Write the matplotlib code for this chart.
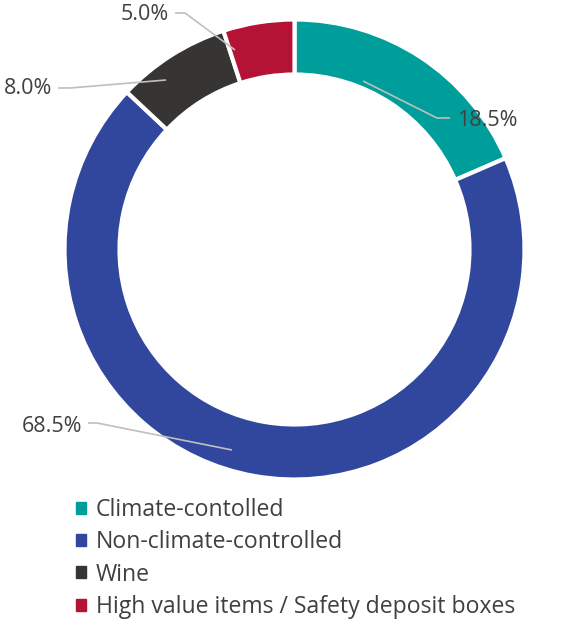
import matplotlib
matplotlib.use('Agg')
import matplotlib.pyplot as plt

categories = ['Climate-contolled', 'Non-climate-controlled', 'Wine',
              'High value items / Safety deposit boxes']
shares = [18.5, 68.5, 8.0, 5.0]
colors = ['#009E9A', '#30479D', '#363534', '#B51335']

W, H = 584, 619
TEXT = '#404040'
LEADER = '#BFBFBF'

plt.rcParams['font.family'] = ['Open Sans', 'DejaVu Sans']

fig = plt.figure(figsize=(W / 100, H / 100), dpi=100)
ax = fig.add_axes([0, 0, 1, 1])

# ring geometry in pixel units (y measured from the top of the image)
cx, cy = 294.5, 249.5
r_out, r_in = 230, 175

wedges, _ = ax.pie(shares, colors=colors, startangle=90, counterclock=False,
                   center=(cx, H - cy), radius=r_out,
                   wedgeprops=dict(width=r_out - r_in, edgecolor='white', linewidth=3))
ax.set_xlim(0, W)
ax.set_ylim(0, H)
ax.set_aspect('equal')
ax.axis('off')

# data labels with leader lines: (text x, text y, ha, line vertices)
label_layout = [
    (457, 121, 'left',  [(363, 81), (437, 118), (450, 118)]),
    (82, 426, 'right',  [(232, 450), (97, 423), (88, 423)]),
    (52, 89, 'right',   [(166, 80), (70, 88), (58, 88)]),
    (169, 15, 'right',  [(235, 50), (185, 13), (175, 13)]),
]
for val, (tx, ty, ha, pts) in zip(shares, label_layout):
    xs = [p[0] for p in pts]
    ys = [H - p[1] for p in pts]
    ax.plot(xs, ys, color=LEADER, linewidth=1.2, solid_capstyle='butt')
    ax.text(tx, H - ty, f'{val:.1f}%', ha=ha, va='center', fontsize=15.5, color=TEXT)

handles = [plt.Rectangle((0, 0), 1, 1, color=c) for c in colors]
leg = fig.legend(handles, categories, loc='upper left',
                 bbox_to_anchor=(76 / W, 1 - 498 / H), frameon=False,
                 fontsize=16.6, labelcolor=TEXT, handlelength=0.42, handleheight=0.42,
                 handletextpad=0.45, labelspacing=0.36, borderpad=0, borderaxespad=0)

fig.savefig('out.png', dpi=100)
